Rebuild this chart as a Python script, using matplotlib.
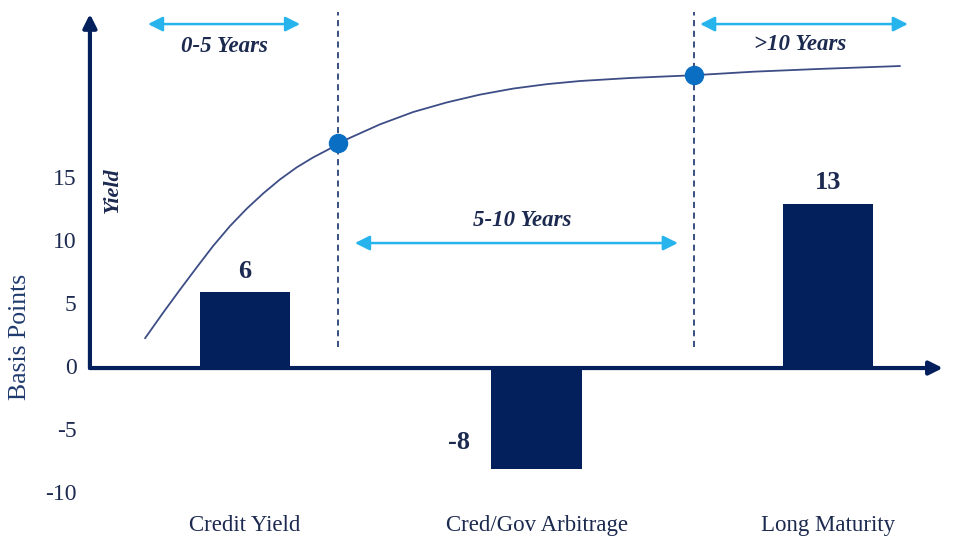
import matplotlib
matplotlib.use("Agg")
import matplotlib.pyplot as plt

plt.rcParams['font.family'] = ['Liberation Serif', 'DejaVu Serif']

# ---- data ----
categories = ["Credit Yield", "Cred/Gov Arbitrage", "Long Maturity"]
values = [6, -8, 13]
value_labels = ["6", "-8", "13"]
yticks = [15, 10, 5, 0, -5, -10]
ytick_labels = ["15", "10", "5", "0", "-5", "-10"]

# illustrative yield curve
curve_x = [-0.343, -0.280, -0.223, -0.166, -0.109, -0.051, 0.006, 0.063,
           0.120, 0.177, 0.234, 0.292, 0.320, 0.360, 0.463, 0.577, 0.692,
           0.806, 0.920, 1.035, 1.149, 1.321, 1.540, 1.744, 1.972, 2.247]
curve_y = [2.36, 4.42, 6.22, 7.98, 9.70, 11.28, 12.65, 13.87,
           14.97, 15.92, 16.72, 17.42, 17.83, 18.27, 19.34, 20.32, 21.08,
           21.70, 22.18, 22.53, 22.78, 23.02, 23.24, 23.52, 23.74, 23.97]
dot_x = [0.320, 1.540]
dot_y = [17.83, 23.24]

range_labels = ["0-5 Years", "5-10 Years", ">10 Years"]

# ---- colours ----
NAVY = '#03205c'
TEXT = '#1c2a50'
CYAN = '#27b4ec'
DOT = '#0a6fc2'
CURVE = '#3d4d86'

fig = plt.figure(figsize=(9.63, 5.38), dpi=100)
ax = fig.add_axes([0, 0, 1, 1])
ax.set_xlim(-0.8405, 2.463)
ax.set_ylim(-13.49, 29.21)
ax.axis('off')

xpos = list(range(len(categories)))
ax.bar(xpos, values, width=0.309, color=NAVY, zorder=2)

# axes with arrows
ax.annotate('', xy=(2.394, 0), xytext=(-0.532, 0),
            arrowprops=dict(arrowstyle='-|>', color=NAVY, lw=3, mutation_scale=20,
                            shrinkA=0, shrinkB=0), zorder=3)
ax.annotate('', xy=(-0.532, 28.1), xytext=(-0.532, 0),
            arrowprops=dict(arrowstyle='-|>', color=NAVY, lw=3, mutation_scale=20,
                            shrinkA=0, shrinkB=0), zorder=3)

# dashed separators
for xv in dot_x:
    ax.plot([xv, xv], [1.67, 28.25], color=NAVY, lw=1.1, ls=(0, (4, 3)), zorder=1)

# curve and dots
ax.plot(curve_x, curve_y, color=CURVE, lw=1.3, zorder=3,
        solid_capstyle='round', solid_joinstyle='round')
ax.plot(dot_x, dot_y, 'o', color=DOT, ms=13, zorder=4)

# tick labels
for t, lab in zip(yticks, ytick_labels):
    ax.text(-0.578, t, lab, ha='right', va='center', fontsize=17, color=TEXT)

# category labels
for x, c in zip(xpos, categories):
    ax.text(x, -12.46, c, ha='center', va='center', fontsize=16.5, color=TEXT)

# axis titles
ax.text(-0.772, 2.46, "Basis Points", rotation=90, ha='center', va='center',
        fontsize=18.5, color='#1f3a6e')
ax.text(-0.453, 14.1, "Yield", rotation=90, ha='center', va='center',
        fontsize=16, color=TEXT, fontweight='bold', style='italic')

# value labels
val_pos = [(0, 7.7), (0.734, -5.95), (2, 14.7)]
for (x, y), lab in zip(val_pos, value_labels):
    ax.text(x, y, lab, ha='center', va='center', fontsize=19, color=TEXT,
            fontweight='bold')

# range arrows
arrows = [((-0.333, 27.3), (0.189, 27.3), (-0.072, 25.5)),
          ((0.377, 9.92), (1.485, 9.92), (0.950, 11.67)),
          ((1.561, 27.3), (2.274, 27.3), (1.904, 25.7))]
for (a, b, tp), lab in zip(arrows, range_labels):
    ax.annotate('', xy=b, xytext=a,
                arrowprops=dict(arrowstyle='<|-|>', color=CYAN, lw=1.8,
                                mutation_scale=22, shrinkA=0, shrinkB=0))
    ax.text(tp[0], tp[1], lab, ha='center', va='center', fontsize=16.5,
            color=TEXT, fontweight='bold', style='italic')

fig.savefig('out.png', dpi=100)
